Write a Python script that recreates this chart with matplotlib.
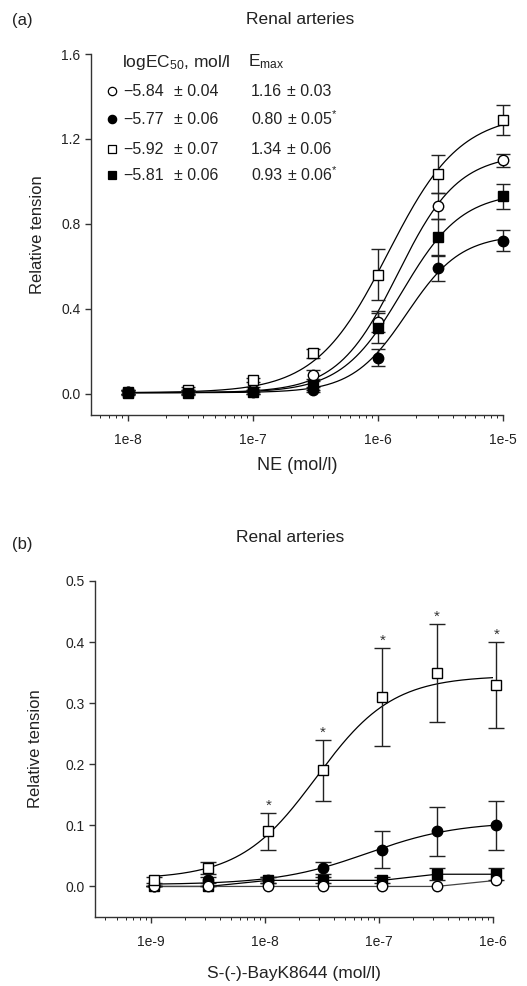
import numpy as np
import matplotlib
matplotlib.use("Agg")
import matplotlib.pyplot as plt

plt.rcParams['font.family'] = ['Liberation Sans', 'DejaVu Sans']
plt.rcParams['mathtext.fontset'] = 'custom'
plt.rcParams['mathtext.rm'] = 'Liberation Sans'
plt.rcParams['mathtext.default'] = 'regular'

# ---- panel (a): NE ----
ne_dose = [1e-8, 3e-8, 1e-7, 3e-7, 1e-6, 3e-6, 1e-5]
a_open_circ = [0.01, 0.01, 0.02, 0.09, 0.34, 0.885, 1.10]
a_open_circ_err = [0.01, 0.01, 0.01, 0.02, 0.05, 0.06, 0.03]
a_fill_circ = [0.01, 0.01, 0.01, 0.02, 0.17, 0.59, 0.72]
a_fill_circ_err = [0.01, 0.01, 0.01, 0.01, 0.04, 0.06, 0.05]
a_open_sq = [0.01, 0.02, 0.065, 0.19, 0.56, 1.035, 1.29]
a_open_sq_err = [0.01, 0.01, 0.01, 0.02, 0.12, 0.09, 0.07]
a_fill_sq = [0.005, 0.005, 0.01, 0.04, 0.31, 0.74, 0.93]
a_fill_sq_err = [0.01, 0.01, 0.01, 0.02, 0.07, 0.085, 0.06]

log_ec50 = [-5.84, -5.77, -5.92, -5.81]
log_ec50_err = [0.04, 0.06, 0.07, 0.06]
e_max = [1.16, 0.80, 1.34, 0.93]
e_max_err = [0.03, 0.05, 0.06, 0.06]
e_max_sig = ['', '*', '', '*']
# fitted curve tops / slopes as drawn in (a)
curve_top = [1.13, 0.75, 1.32, 0.95]
hill_n = [1.8, 2.0, 1.5, 1.8]

# ---- panel (b): S-(-)-BayK8644 ----
bay_dose = [1.07e-9, 3.2e-9, 1.07e-8, 3.2e-8, 1.07e-7, 3.2e-7, 1.07e-6]
b_open_sq = [0.01, 0.03, 0.09, 0.19, 0.31, 0.35, 0.33]
b_open_sq_err = [0.005, 0.01, 0.03, 0.05, 0.08, 0.08, 0.07]
b_open_sq_sig = [False, False, True, True, True, True, True]
b_fill_circ = [0.0, 0.01, 0.01, 0.03, 0.06, 0.09, 0.10]
b_fill_circ_err = [0.0, 0.005, 0.005, 0.01, 0.03, 0.04, 0.04]
b_fill_sq = [0.0, 0.0, 0.01, 0.01, 0.01, 0.02, 0.02]
b_fill_sq_err = [0.0, 0.0, 0.005, 0.005, 0.005, 0.01, 0.01]
b_open_circ = [0.0, 0.0, 0.0, 0.0, 0.0, 0.0, 0.01]

# hill fit params in (b): bottom, top, logEC50, slope
b_sq_fit = [0.012, 0.345, -7.55, 1.3]
b_circ_fit = [0.003, 0.106, -7.1, 1.1]


def hill(x, bottom, top, logec, n):
    return bottom + (top - bottom) / (1 + 10 ** ((logec - np.log10(x)) * n))


styles = [dict(marker='o', mfc='white', ms=7.5),
          dict(marker='o', mfc='black', ms=7.5),
          dict(marker='s', mfc='white', ms=6.8),
          dict(marker='s', mfc='black', ms=6.8)]

fig = plt.figure(figsize=(5.27, 9.86), dpi=100)
TXT = '#222222'


def style_axes(ax):
    for s in ['top', 'right']:
        ax.spines[s].set_visible(False)
    for s in ['left', 'bottom']:
        ax.spines[s].set_linewidth(1.0)
        ax.spines[s].set_color('#333333')
    ax.tick_params(direction='out', length=4, width=1, colors='#333333',
                   labelsize=10, labelcolor=TXT)
    ax.minorticks_off()


def fx(px):
    return px / 527


def fy(py):
    return 1 - py / 986


# panel (a)
ax1 = fig.add_axes([91/527, (986-415)/986, 412/527, 361/986])
style_axes(ax1)
ax1.set_xscale('log')
ax1.set_xlim(10**-8.296, 1e-5)
ax1.set_ylim(-0.1, 1.6)
xs = np.logspace(-8, -5, 300)
a_vals = [a_open_circ, a_fill_circ, a_open_sq, a_fill_sq]
a_errs = [a_open_circ_err, a_fill_circ_err, a_open_sq_err, a_fill_sq_err]
for i in range(4):
    ax1.plot(xs, hill(xs, 0.005, curve_top[i], log_ec50[i], hill_n[i]),
             color='black', lw=0.9, zorder=2)
for i in range(4):
    ax1.errorbar(ne_dose, a_vals[i], yerr=a_errs[i], fmt='none', ecolor=TXT,
                 elinewidth=1, capsize=5, capthick=1, zorder=3, clip_on=False)
    ax1.plot(ne_dose, a_vals[i], ls='none', mec='black', mew=1,
             zorder=4, clip_on=False, **styles[i])
ax1.set_xticks([1e-8, 1e-7, 1e-6, 1e-5])
ax1.set_xticklabels(['1e-8', '1e-7', '1e-6', '1e-5'])
ax1.set_yticks([0.0, 0.4, 0.8, 1.2, 1.6])
ax1.set_yticklabels(['0.0', '0.4', '0.8', '1.2', '1.6'])
ax1.tick_params(axis='x', pad=9)
ax1.set_xlabel('NE (mol/l)', fontsize=13, labelpad=7, color=TXT)
ax1.set_ylabel('Relative tension', fontsize=12, labelpad=12, color=TXT)

# legend table in (a)
fig.text(fx(122), fy(62), 'logEC$_{50}$, mol/l', fontsize=12.5, va='center', color=TXT)
fig.text(fx(248), fy(62), 'E$_{max}$', fontsize=12.5, va='center', color=TXT)
row_y = [91, 119, 149, 175]
for i in range(4):
    st = dict(styles[i])
    st['ms'] = st['ms'] - 1.5
    fig.add_artist(plt.Line2D([fx(112)], [fy(row_y[i])], transform=fig.transFigure,
                              ls='none', mec='black', mew=0.9, **st))
    fig.text(fx(123), fy(row_y[i]), '\u2212%.2f' % abs(log_ec50[i]), fontsize=11.5,
             va='center', color=TXT)
    fig.text(fx(174), fy(row_y[i]), '\u00b1 %.2f' % log_ec50_err[i], fontsize=11.5,
             va='center', color=TXT)
    fig.text(fx(251), fy(row_y[i]), '%.2f' % e_max[i], fontsize=11.5,
             va='center', color=TXT)
    label = '\u00b1 %.2f' % e_max_err[i]
    if e_max_sig[i]:
        label += '$^{' + e_max_sig[i] + '}$'
    fig.text(fx(287), fy(row_y[i]), label, fontsize=11.5, va='center', color=TXT)

fig.text(fx(300), fy(20), 'Renal arteries', fontsize=12.5, ha='center', va='center', color=TXT)
fig.text(fx(12), fy(20), '(a)', fontsize=12, va='center', color=TXT)

# panel (b)
ax2 = fig.add_axes([95/527, 69/986, 398/527, 336/986])
style_axes(ax2)
ax2.set_xscale('log')
ax2.set_xlim(10**-9.49, 1e-6)
ax2.set_ylim(-0.05, 0.5)
xs2 = np.logspace(np.log10(bay_dose[0]), np.log10(bay_dose[-1]), 300)
ax2.plot(xs2, hill(xs2, *b_sq_fit), color='black', lw=0.9, zorder=2)
ax2.plot(xs2, hill(xs2, *b_circ_fit), color='black', lw=0.9, zorder=2)
ax2.plot(bay_dose, b_fill_sq, color='black', lw=0.9, zorder=2)
ax2.plot(bay_dose, b_open_circ, color='#444444', lw=0.9, zorder=2)

for vals, errs in [(b_open_sq, b_open_sq_err), (b_fill_circ, b_fill_circ_err),
                   (b_fill_sq, b_fill_sq_err)]:
    ax2.errorbar(bay_dose, vals, yerr=errs, fmt='none', ecolor=TXT,
                 elinewidth=1, capsize=5.5, capthick=1, zorder=3, clip_on=False)
ax2.plot(bay_dose, b_fill_sq, ls='none', mec='black', mew=1, zorder=4, clip_on=False, **styles[3])
ax2.plot(bay_dose, b_fill_circ, ls='none', mec='black', mew=1, zorder=4, clip_on=False, **styles[1])
ax2.plot(bay_dose, b_open_circ, ls='none', mec='black', mew=1, zorder=5, clip_on=False, **styles[0])
ax2.plot(bay_dose, b_open_sq, ls='none', mec='black', mew=1, zorder=6, clip_on=False, **styles[2])
for x, y, e, s in zip(bay_dose, b_open_sq, b_open_sq_err, b_open_sq_sig):
    if s:
        ax2.text(x, y + e + 0.012, '*', fontsize=11, ha='center', va='center', color='#333333')

ax2.set_xticks([1e-9, 1e-8, 1e-7, 1e-6])
ax2.set_xticklabels(['1e-9', '1e-8', '1e-7', '1e-6'])
ax2.set_yticks([0.0, 0.1, 0.2, 0.3, 0.4, 0.5])
ax2.set_yticklabels(['0.0', '0.1', '0.2', '0.3', '0.4', '0.5'])
ax2.tick_params(axis='x', pad=9)
ax2.set_xlabel('S-(-)-BayK8644 (mol/l)', fontsize=12.5, labelpad=12, color=TXT)
ax2.set_ylabel('Relative tension', fontsize=12, labelpad=16, color=TXT)

fig.text(fx(290), fy(537), 'Renal arteries', fontsize=12.5, ha='center', va='center', color=TXT)
fig.text(fx(12), fy(545), '(b)', fontsize=12, va='center', color=TXT)

fig.savefig('out.png', dpi=100)
